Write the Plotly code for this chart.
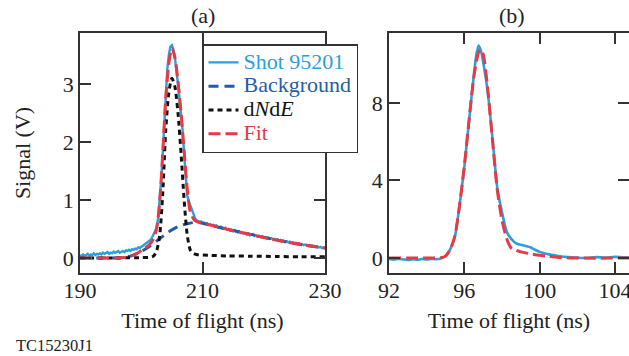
import plotly.graph_objects as go

# ---------------- Panel (a): shot 95201 ----------------
time_a = [
    190.00, 190.25, 190.50, 190.75, 191.00, 191.25, 191.50, 191.75, 192.00, 192.25,
    192.50, 192.75, 193.00, 193.25, 193.50, 193.75, 194.00, 194.25, 194.50, 194.75,
    195.00, 195.25, 195.50, 195.75, 196.00, 196.25, 196.50, 196.75, 197.00, 197.25,
    197.50, 197.75, 198.00, 198.25, 198.50, 198.75, 199.00, 199.25, 199.50, 199.75,
    200.00, 200.25, 200.50, 200.75, 201.00, 201.25, 201.50, 201.75, 202.00, 202.25,
    202.50, 202.75, 203.00, 203.25, 203.50, 203.75, 204.00, 204.25, 204.50, 204.75,
    205.00, 205.25, 205.50, 205.75, 206.00, 206.25, 206.50, 206.75, 207.00, 207.25,
    207.50, 207.75, 208.00, 208.25, 208.50, 208.75, 209.00, 209.25, 209.50, 209.75,
    210.00, 210.25, 210.50, 210.75, 211.00, 211.25, 211.50, 211.75, 212.00, 212.25,
    212.50, 212.75, 213.00, 213.25, 213.50, 213.75, 214.00, 214.25, 214.50, 214.75,
    215.00, 215.25, 215.50, 215.75, 216.00, 216.25, 216.50, 216.75, 217.00, 217.25,
    217.50, 217.75, 218.00, 218.25, 218.50, 218.75, 219.00, 219.25, 219.50, 219.75,
    220.00, 220.25, 220.50, 220.75, 221.00, 221.25, 221.50, 221.75, 222.00, 222.25,
    222.50, 222.75, 223.00, 223.25, 223.50, 223.75, 224.00, 224.25, 224.50, 224.75,
    225.00, 225.25, 225.50, 225.75, 226.00, 226.25, 226.50, 226.75, 227.00, 227.25,
    227.50, 227.75, 228.00, 228.25, 228.50, 228.75, 229.00, 229.25, 229.50, 229.75,
    230.00,
]
signal_a = [
    0.05, 0.03, 0.06, 0.04, 0.05, 0.07, 0.04, 0.06, 0.05, 0.08,
    0.05, 0.07, 0.06, 0.08, 0.06, 0.09, 0.07, 0.08, 0.10, 0.07,
    0.09, 0.08, 0.11, 0.09, 0.10, 0.12, 0.09, 0.11, 0.12, 0.10,
    0.13, 0.12, 0.14, 0.12, 0.15, 0.14, 0.16, 0.15, 0.18, 0.17,
    0.19, 0.20, 0.22, 0.24, 0.26, 0.28, 0.31, 0.35, 0.40, 0.46,
    0.52, 0.68, 0.95, 1.35, 1.80, 2.35, 2.85, 3.25, 3.50, 3.64,
    3.67, 3.60, 3.45, 3.25, 3.00, 2.75, 2.50, 2.20, 1.80, 1.40,
    1.08, 0.98, 0.92, 0.85, 0.77, 0.69, 0.65, 0.64, 0.62, 0.63,
    0.60, 0.61, 0.59, 0.60, 0.57, 0.58, 0.56, 0.57, 0.54, 0.56,
    0.53, 0.52, 0.54, 0.51, 0.50, 0.52, 0.49, 0.50, 0.47, 0.48,
    0.46, 0.48, 0.45, 0.44, 0.46, 0.43, 0.44, 0.42, 0.43, 0.40,
    0.42, 0.39, 0.40, 0.41, 0.38, 0.39, 0.37, 0.38, 0.36, 0.37,
    0.35, 0.36, 0.34, 0.35, 0.33, 0.34, 0.32, 0.33, 0.31, 0.32,
    0.30, 0.31, 0.29, 0.30, 0.28, 0.29, 0.27, 0.28, 0.26, 0.27,
    0.25, 0.26, 0.24, 0.25, 0.23, 0.24, 0.22, 0.23, 0.22, 0.21,
    0.22, 0.20, 0.21, 0.19, 0.20, 0.19, 0.18, 0.19, 0.17, 0.18,
    0.17,
]

bg_time = [190, 195, 197, 198.5, 200, 201.5, 203, 204.5, 206, 207.5,
           208.5, 209.5, 211, 213, 216, 219, 222, 225, 228, 230]
bg_val = [0.0, 0.0, 0.01, 0.04, 0.11, 0.21, 0.33, 0.45, 0.54, 0.59,
          0.61, 0.61, 0.57, 0.52, 0.45, 0.38, 0.31, 0.25, 0.20, 0.17]

dnde_time = [190, 196, 200, 201.5, 202, 202.5, 203, 203.5, 204, 204.5,
             205, 205.5, 206, 206.5, 207, 207.5, 208, 208.5, 209, 211,
             214, 218, 222, 226, 230]
dnde_val = [0.0, 0.0, 0.005, 0.01, 0.03, 0.12, 0.38, 1.1, 2.2, 2.85,
            3.1, 2.95, 2.5, 1.8, 1.0, 0.4, 0.14, 0.08, 0.06, 0.045,
            0.035, 0.03, 0.025, 0.02, 0.02]

fit_time = [190, 193, 196, 197.5, 198.5, 199.5, 200.5, 201.5, 202, 202.5,
            203, 203.5, 204, 204.5, 205, 205.5, 206, 206.5, 207, 207.5,
            208, 208.5, 209, 210, 212, 215, 218, 221, 224, 227, 230]
fit_val = [0.0, 0.0, 0.0, 0.01, 0.04, 0.09, 0.16, 0.25, 0.33, 0.50,
           0.95, 1.80, 2.75, 3.35, 3.62, 3.45, 3.05, 2.50, 1.85, 1.20,
           0.80, 0.68, 0.63, 0.60, 0.55, 0.47, 0.40, 0.33, 0.27, 0.22, 0.17]

# ---------------- Panel (b) ----------------
time_b = [92.0, 92.25, 92.5, 92.75, 93.0, 93.25, 93.5, 93.75, 94.0, 94.25,
          94.5, 94.75, 95.0, 95.25, 95.5, 95.75, 96.0, 96.25, 96.5, 96.625,
          96.75, 96.875, 97.0, 97.25, 97.5, 97.75, 98.0, 98.25, 98.5, 98.75,
          99.0, 99.25, 99.5, 99.75, 100.0, 100.25, 100.5, 100.75, 101.0, 101.5,
          102.0, 102.5, 103.0, 103.5, 104.0, 104.5, 104.75]
signal_b = [-0.05, -0.08, -0.04, -0.07, -0.10, -0.06, -0.09, -0.05, -0.07, -0.04,
            -0.06, -0.02, 0.10, 0.45, 1.10, 2.75, 4.70, 7.10, 9.40, 10.40,
            10.95, 10.70, 10.10, 8.50, 6.10, 3.60, 2.35, 1.35, 0.98, 0.76,
            0.68, 0.62, 0.56, 0.43, 0.32, 0.25, 0.19, 0.15, 0.11, 0.05,
            0.02, 0.00, 0.05, 0.02, 0.06, 0.04, 0.03]

fit_time_b = [92, 93, 94, 94.75, 95.0, 95.25, 95.5, 95.75, 96.0, 96.25,
              96.5, 96.75, 96.85, 97.0, 97.25, 97.5, 97.75, 98.0, 98.25, 98.5,
              98.75, 99.0, 99.5, 100.0, 100.5, 101.0, 102.0, 104.75]
fit_val_b = [0.0, 0.0, 0.0, 0.02, 0.10, 0.45, 1.15, 2.75, 4.75, 7.10,
             9.30, 10.60, 10.75, 10.50, 8.60, 6.00, 3.50, 1.95, 1.00, 0.50,
             0.40, 0.32, 0.22, 0.14, 0.08, 0.03, 0.0, 0.0]

C_DATA = "#2ca0dc"
C_BG = "#1f5dab"
C_DNDE = "#111111"
C_FIT = "#e63a45"
C_AX = "#333333"
C_TXT = "#222222"
FONT = "Liberation Serif"
FS = 22

W, H = 629, 356


def px_x(p):
    return p / W


def px_y(p):
    return (H - p) / H


def legend_label(text, color):
    return f'<span style="color:{color};font-size:{FS}px">{text}</span>'


fig = go.Figure()

fig.add_trace(go.Scatter(
    x=time_a, y=signal_a, mode="lines", xaxis="x", yaxis="y",
    line=dict(color=C_DATA, width=2.4),
    name=legend_label("Shot 95201", C_DATA)))
fig.add_trace(go.Scatter(
    x=bg_time, y=bg_val, mode="lines", xaxis="x", yaxis="y",
    line=dict(color=C_BG, width=3, dash="10px,6px", shape="spline", smoothing=0.8),
    name=legend_label("Background", C_BG)))
fig.add_trace(go.Scatter(
    x=dnde_time, y=dnde_val, mode="lines", xaxis="x", yaxis="y",
    line=dict(color=C_DNDE, width=3, dash="5px,4px", shape="spline", smoothing=0.7),
    name=legend_label("d<i>N</i>d<i>E</i>", C_DNDE)))
fig.add_trace(go.Scatter(
    x=fit_time, y=fit_val, mode="lines", xaxis="x", yaxis="y",
    line=dict(color=C_FIT, width=3, dash="12px,5px", shape="spline", smoothing=0.7),
    name=legend_label("Fit", C_FIT)))

fig.add_trace(go.Scatter(
    x=time_b, y=signal_b, mode="lines", xaxis="x2", yaxis="y2",
    line=dict(color=C_DATA, width=2.6, shape="spline", smoothing=0.5),
    showlegend=False))
fig.add_trace(go.Scatter(
    x=fit_time_b, y=fit_val_b, mode="lines", xaxis="x2", yaxis="y3",
    line=dict(color=C_FIT, width=3, dash="12px,5px", shape="spline", smoothing=0.7),
    showlegend=False))

axis_common = dict(
    showline=True, linewidth=1.5, linecolor=C_AX,
    ticks="inside", ticklen=11, tickwidth=1.5, tickcolor=C_AX,
    showgrid=False, zeroline=False, automargin=False,
    ticklabeloverflow="allow",
    tickfont=dict(family=FONT, size=FS, color=C_TXT),
)
title_font = dict(family=FONT, size=FS, color=C_TXT)

fig.update_layout(
    width=W, height=H,
    margin=dict(l=0, r=0, t=0, b=0, autoexpand=False),
    paper_bgcolor="white", plot_bgcolor="white",
    font=dict(family=FONT, size=FS, color=C_TXT),
    xaxis=dict(domain=[px_x(80), px_x(325)], range=[190, 230],
               tickvals=[190, 210, 230], mirror="ticks", anchor="y",
               ticklabelstandoff=-3,
               title=dict(text="Time of flight (ns)", standoff=10, font=title_font),
               **axis_common),
    yaxis=dict(domain=[px_y(273), px_y(33)], range=[-0.26, 3.88],
               tickvals=[0, 1, 2, 3], mirror="ticks", anchor="x",
               title=dict(text="Signal (V)", standoff=26, font=title_font),
               **axis_common),
    xaxis2=dict(domain=[px_x(389), 1.0], range=[92, 104.74],
                tickvals=[92, 96, 100, 104], mirror="ticks", anchor="y2",
                ticklabelstandoff=-3,
                title=dict(text="Time of flight (ns)", standoff=10, font=title_font),
                **axis_common),
    yaxis2=dict(domain=[px_y(273), px_y(33)], range=[-0.77, 11.6],
                tickvals=[0, 4, 8], mirror=False, anchor="x2",
                **axis_common),
    yaxis3=dict(range=[-0.77, 11.6], tickvals=[0, 4, 8], overlaying="y2",
                side="right", anchor="x2", showline=False, showgrid=False,
                zeroline=False, ticks="inside", ticklen=11, tickwidth=1.5,
                tickcolor=C_AX, showticklabels=False, automargin=False),
    legend=dict(x=px_x(202), y=px_y(44), xanchor="left", yanchor="top",
                bgcolor="white", bordercolor=C_AX, borderwidth=1.5,
                font=dict(family=FONT, size=16), itemwidth=30,
                tracegroupgap=0),
    showlegend=True,
)

fig.add_annotation(text="(a)", x=px_x(202.5), y=px_y(15), xref="paper", yref="paper",
                   xanchor="center", yanchor="middle", showarrow=False,
                   font=dict(family=FONT, size=FS, color=C_TXT))
fig.add_annotation(text="(b)", x=px_x(512), y=px_y(15), xref="paper", yref="paper",
                   xanchor="center", yanchor="middle", showarrow=False,
                   font=dict(family=FONT, size=FS, color=C_TXT))
fig.add_annotation(text="TC15230J1", x=px_x(14), y=px_y(345), xref="paper", yref="paper",
                   xanchor="left", yanchor="middle", showarrow=False,
                   font=dict(family=FONT, size=16.5, color=C_TXT))

fig.write_html("out.html")
